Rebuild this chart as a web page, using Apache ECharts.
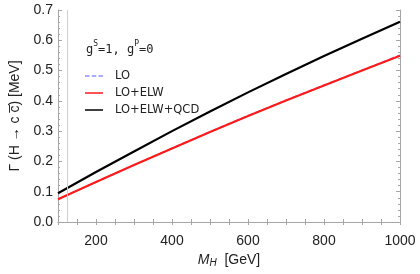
<!DOCTYPE html>
<html><head><meta charset="utf-8">
<script src="https://cdn.jsdelivr.net/npm/echarts@6/dist/echarts.min.js"></script>
<style>html,body{margin:0;padding:0;background:#fff}#c{width:420px;height:274px}</style>
</head><body><div id="c"></div>
<script>
const massGeV = [100, 200, 300, 400, 500, 600, 700, 800, 900, 1000];
const widthLO = [0.075, 0.132, 0.188, 0.244, 0.298, 0.351, 0.402, 0.452, 0.501, 0.551];
const widthLOELW = [0.075, 0.132, 0.188, 0.243, 0.297, 0.350, 0.401, 0.451, 0.500, 0.549];
const widthLOELWQCD = [0.095, 0.165, 0.233, 0.300, 0.365, 0.428, 0.489, 0.548, 0.605, 0.661];
const seriesNames = ['LO', 'LO+ELW', 'LO+ELW+QCD'];
const refMass = [125];

const pair = (ys) => massGeV.map((x, i) => [x, ys[i]]);
const frame = '#a6a6a6';
const chart = echarts.init(document.getElementById('c'), null, {renderer: 'canvas'});
const xBase = {
  type: 'value', min: 100, max: 1000, interval: 50,
  axisLine: {show: true, lineStyle: {color: frame, width: 1}},
  axisTick: {show: true, inside: true, length: 3, lineStyle: {color: frame}},
  splitLine: {show: false}
};
const yBase = {
  type: 'value', min: 0, max: 0.7, interval: 0.1,
  axisLine: {show: true, lineStyle: {color: frame, width: 1}},
  axisTick: {show: true, inside: true, length: 4, lineStyle: {color: frame}},
  minorTick: {show: true, splitNumber: 5, length: 2, lineStyle: {color: frame}},
  splitLine: {show: false}
};
const dashIcon = 'path://M0,0h6v2h-6z M9,0h6v2h-6z M18,0h6v2h-6z';
const solidIcon = 'path://M0,0h24v2h-24z';
chart.setOption({
  animation: false,
  grid: {left: 54, right: 20, top: 10, bottom: 52},
  title: {
    text: '{n|g}{s|S}{n|=1, g}{s|P}{n|=0}',
    left: 81, top: 35,
    textStyle: {fontWeight: 'normal', rich: {
      n: {fontFamily: 'DejaVu Sans Mono', fontSize: 12, fontWeight: 'normal', color: '#222', verticalAlign: 'bottom', lineHeight: 16},
      s: {fontFamily: 'DejaVu Sans Mono', fontSize: 8, fontWeight: 'normal', color: '#222', verticalAlign: 'top', lineHeight: 16, padding: [0,0,6,0]}
    }}
  },
  legend: {
    orient: 'vertical', left: 80, top: 65, itemGap: 5,
    itemWidth: 24, itemHeight: 1.5,
    data: [
      {name: seriesNames[0], icon: dashIcon, itemStyle: {color: '#8f8fff', borderWidth: 0}, lineStyle: {width: 0}},
      {name: seriesNames[1], icon: solidIcon, itemStyle: {color: '#ff1a1a', borderWidth: 0}, lineStyle: {width: 0}},
      {name: seriesNames[2], icon: solidIcon, itemStyle: {color: '#000', borderWidth: 0}, lineStyle: {width: 0}}
    ],
    textStyle: {fontFamily: 'DejaVu Sans', fontSize: 11.5, color: '#222', padding: [0,0,0,4], lineHeight: 11}
  },
  xAxis: [
    Object.assign({}, xBase, {
      position: 'bottom',
      name: '{i|M}{sub|H}{n|  [GeV]}', nameLocation: 'middle', nameGap: 29,
      nameTextStyle: {rich: {
        i: {fontFamily: 'Liberation Sans', fontStyle: 'italic', fontSize: 14, color: '#222'},
        sub: {fontFamily: 'Liberation Sans', fontStyle: 'italic', fontSize: 10, color: '#222', verticalAlign: 'bottom', padding: [6,0,0,0]},
        n: {fontFamily: 'Liberation Sans', fontSize: 14, color: '#222'}
      }},
      axisLabel: {
        show: true, margin: 12, fontFamily: 'Liberation Sans', fontSize: 14, color: '#222',
        showMinLabel: false,
        formatter: (v) => (v % 200 === 0 ? String(v) : '')
      }
    }),
    Object.assign({}, xBase, {position: 'top', axisLabel: {show: false}})
  ],
  yAxis: [
    Object.assign({}, yBase, {
      position: 'left',
      name: 'Γ (H → c c\u0305) [MeV]', nameLocation: 'middle', nameGap: 36, nameRotate: 90,
      nameTextStyle: {fontFamily: 'Liberation Sans', fontSize: 14, color: '#222'},
      axisLabel: {show: true, margin: 5, fontFamily: 'Liberation Sans', fontSize: 14, color: '#222',
        formatter: (v) => v.toFixed(1)}
    }),
    Object.assign({}, yBase, {position: 'right', axisLabel: {show: false}})
  ],
  series: [
    {name: seriesNames[0], type: 'line', data: pair(widthLO), smooth: false, symbol: 'none',
     lineStyle: {color: '#8f8fff', width: 1.5, type: [5, 3]}, itemStyle: {color: '#8f8fff'}, z: 2,
     markLine: {silent: true, symbol: 'none', label: {show: false},
       lineStyle: {color: '#cfcfcf', width: 1, type: 'solid'},
       data: refMass.map(m => ({xAxis: m}))}},
    {name: seriesNames[1], type: 'line', data: pair(widthLOELW), smooth: false, symbol: 'none',
     lineStyle: {color: '#ff1a1a', width: 2.2}, itemStyle: {color: '#ff1a1a'}, z: 3},
    {name: seriesNames[2], type: 'line', data: pair(widthLOELWQCD), smooth: false, symbol: 'none',
     lineStyle: {color: '#000000', width: 2.2}, itemStyle: {color: '#000000'}, z: 4}
  ]
});
</script></body></html>
